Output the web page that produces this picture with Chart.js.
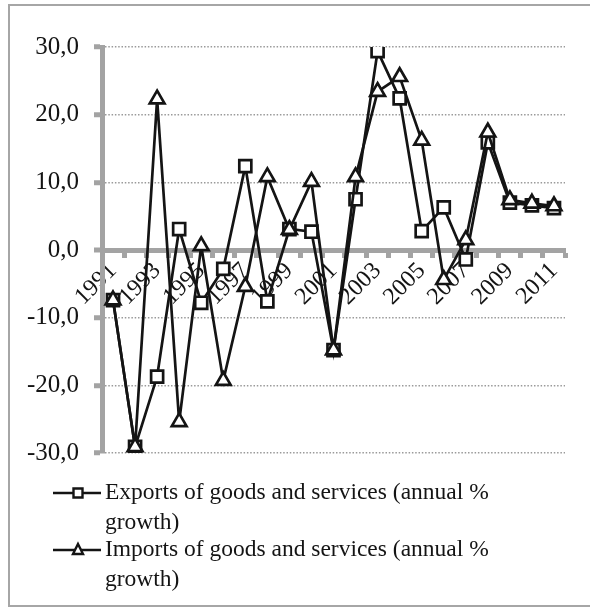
<!DOCTYPE html>
<html>
<head>
<meta charset="utf-8">
<script src="https://cdn.jsdelivr.net/npm/chart.js@4"></script>
<style>
  html, body { margin: 0; padding: 0; background: #fff; overflow: hidden; }
  #frame {
    position: absolute; left: 8px; top: 4px; width: 640px; height: 603px;
    border: 2px solid #a6a6a6; box-sizing: border-box;
  }
  #trade { position: absolute; left: 0; top: 0; }
</style>
</head>
<body>
<div id="frame"></div>
<canvas id="trade" width="590" height="608"></canvas>
<script>
const years = [
  "1991", "1992", "1993", "1994", "1995", "1996", "1997", "1998", "1999", "2000",
  "2001", "2002", "2003", "2004", "2005", "2006", "2007", "2008", "2009", "2010", "2011",
];

// annual % growth
const exportsGrowth = [
  -7.4, -29.1, -18.7, 3.1, -7.8, -2.8, 12.4, -7.6, 3.1, 2.7,
  -14.8, 7.5, 29.4, 22.4, 2.8, 6.3, -1.4, 15.9, 7.0, 6.6, 6.2,
];
const importsGrowth = [
  -7.4, -29.1, 22.3, -25.4, 0.6, -19.3, -5.4, 10.8, 3.0, 10.1,
  -14.8, 10.8, 23.4, 25.6, 16.2, -4.4, 1.5, 17.4, 7.4, 6.9, 6.5,
];

const seriesNames = [
  ["Exports of goods and services (annual %", "growth)"],
  ["Imports of goods and services (annual %", "growth)"],
];

const ink = "#141414";
const axisGray = "#a3a3a3";
const serif = "'Liberation Serif', 'Times New Roman', serif";

// excel-style legend: short line with the marker in the middle, text wrapped
const lineLegend = {
  id: "lineLegend",
  afterDraw(chart) {
    const ctx = chart.ctx;
    const rows = [
      { text: seriesNames[0], style: "rect", top: 493 },
      { text: seriesNames[1], style: "triangle", top: 550 },
    ];
    ctx.save();
    ctx.font = "23.5px " + serif;
    ctx.textBaseline = "middle";
    rows.forEach((row) => {
      ctx.strokeStyle = ink;
      ctx.lineWidth = 2.5;
      ctx.beginPath();
      ctx.moveTo(53, row.top);
      ctx.lineTo(101, row.top);
      ctx.stroke();

      ctx.fillStyle = "#fff";
      ctx.lineWidth = 2.4;
      ctx.beginPath();
      if (row.style === "rect") {
        ctx.rect(73.5, row.top - 4.5, 9, 9);
      } else {
        ctx.moveTo(78, row.top - 6);
        ctx.lineTo(83, row.top + 4);
        ctx.lineTo(73, row.top + 4);
        ctx.closePath();
      }
      ctx.fill();
      ctx.stroke();

      ctx.fillStyle = ink;
      row.text.forEach((line, i) => {
        ctx.fillText(line, 105, row.top + i * 30);
      });
    });
    ctx.restore();
  },
};

new Chart(document.getElementById("trade"), {
  type: "line",
  data: {
    labels: years,
    datasets: [
      {
        label: seriesNames[0].join(" "),
        data: exportsGrowth,
        order: 1,
        borderColor: ink,
        borderWidth: 2.7,
        pointStyle: "rect",
        pointRadius: 8.5,
        pointBorderWidth: 2.7,
        pointBackgroundColor: "#fff",
        pointBorderColor: ink,
        tension: 0,
      },
      {
        label: seriesNames[1].join(" "),
        data: importsGrowth,
        order: 0,
        borderColor: ink,
        borderWidth: 2.7,
        pointStyle: "triangle",
        pointRadius: 8.5,
        pointBorderWidth: 2.7,
        pointBackgroundColor: "#fff",
        pointBorderColor: ink,
        tension: 0,
      },
    ],
  },
  options: {
    responsive: false,
    animation: false,
    layout: { padding: { top: 47, right: 25, bottom: 155, left: 0 } },
    plugins: {
      legend: { display: false },
      tooltip: { enabled: false },
    },
    scales: {
      x: {
        position: { y: 0 },
        offset: true,
        grid: {
          offset: true,
          drawOnChartArea: false,
          drawTicks: true,
          tickLength: 5,
          tickWidth: 5,
          tickColor: axisGray,
        },
        border: { display: true, color: axisGray, width: 5 },
        ticks: {
          autoSkip: false,
          minRotation: 45,
          maxRotation: 45,
          padding: 2,
          color: ink,
          font: { family: serif, size: 24 },
          callback: (v, i) => (i % 2 === 0 ? years[i] : ""),
        },
      },
      y: {
        min: -30,
        max: 30,
        afterFit: (scale) => { scale.width = 102; },
        grid: {
          drawTicks: true,
          tickLength: 8,
          tickWidth: 5,
          tickColor: axisGray,
          color: "#9a9a9a",
          lineWidth: (c) => (c.tick && c.tick.value === 0 ? 0 : 1.5),
        },
        border: { display: true, color: axisGray, width: 5, dash: [1.5, 1.8] },
        ticks: {
          stepSize: 10,
          padding: 15,
          color: ink,
          font: { family: serif, size: 25 },
          callback: (v) => v.toFixed(1).replace(".", ","),
        },
      },
    },
  },
  plugins: [lineLegend],
});
</script>
</body>
</html>
